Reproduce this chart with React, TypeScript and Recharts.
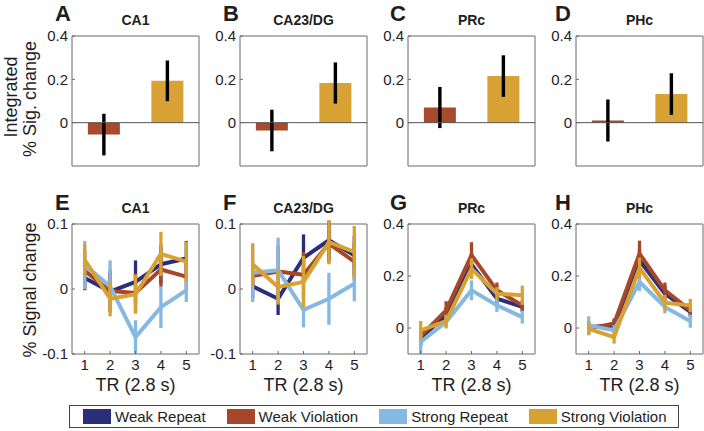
import React from 'react';
import { BarChart, Bar, Cell, LineChart, Line, XAxis, YAxis, ErrorBar, ReferenceArea, ReferenceLine } from 'recharts';

// ---------- data ----------
const regions = ['CA1', 'CA23/DG', 'PRc', 'PHc'];
const topLetters = ['A', 'B', 'C', 'D'];
const bottomLetters = ['E', 'F', 'G', 'H'];

const barCategories = ['Weak Violation', 'Strong Violation'];
const weakViolationBar = [-0.055, -0.036, 0.07, 0.01];
const weakViolationBarErr = [0.096, 0.096, 0.095, 0.097];
const strongViolationBar = [0.193, 0.183, 0.215, 0.132];
const strongViolationBarErr = [0.094, 0.095, 0.096, 0.096];

const trs = [1, 2, 3, 4, 5];
const seriesNames = ['Weak Repeat', 'Weak Violation', 'Strong Repeat', 'Strong Violation'];

// per panel (E, F, G, H)
const weakRepeat = [
  [0.017, -0.004, 0.011, 0.038, 0.047],
  [0.004, -0.015, 0.048, 0.075, 0.052],
  [-0.038, 0.049, 0.244, 0.113, 0.081],
  [0.004, 0.01, 0.26, 0.132, 0.062],
];
const weakRepeatErr = [
  [0.017, 0.03, 0.033, 0.03, 0.027],
  [0.018, 0.025, 0.036, 0.03, 0.03],
  [0.03, 0.03, 0.045, 0.03, 0.02],
  [0.02, 0.02, 0.045, 0.03, 0.02],
];
const weakViolation = [
  [0.028, -0.003, -0.006, 0.03, 0.019],
  [0.02, 0.027, 0.022, 0.07, 0.042],
  [-0.031, 0.068, 0.28, 0.145, 0.087],
  [-0.003, 0.017, 0.286, 0.145, 0.068],
];
const weakViolationErr = [
  [0.03, 0.033, 0.03, 0.027, 0.022],
  [0.02, 0.04, 0.035, 0.03, 0.029],
  [0.03, 0.035, 0.05, 0.03, 0.02],
  [0.02, 0.02, 0.05, 0.03, 0.02],
];
const strongRepeat = [
  [0.037, 0.004, -0.074, -0.028, -0.002],
  [0.025, 0.029, -0.032, -0.015, 0.008],
  [-0.054, 0.023, 0.145, 0.087, 0.042],
  [0.01, -0.009, 0.177, 0.081, 0.026],
];
const strongRepeatErr = [
  [0.037, 0.04, 0.026, 0.032, 0.018],
  [0.045, 0.05, 0.027, 0.04, 0.027],
  [0.045, 0.025, 0.038, 0.025, 0.025],
  [0.035, 0.02, 0.035, 0.025, 0.025],
];
const strongViolation = [
  [0.045, -0.015, -0.008, 0.054, 0.042],
  [0.038, 0.003, 0.011, 0.072, 0.057],
  [-0.009, 0.026, 0.228, 0.132, 0.126],
  [-0.003, -0.035, 0.231, 0.097, 0.087],
];
const strongViolationErr = [
  [0.024, 0.027, 0.03, 0.034, 0.031],
  [0.032, 0.027, 0.04, 0.034, 0.04],
  [0.036, 0.025, 0.04, 0.025, 0.037],
  [0.025, 0.025, 0.04, 0.03, 0.025],
];

const topTicks = [-0.2, 0, 0.2, 0.4];
const bottomDomains = [[-0.1, 0.1], [-0.1, 0.1], [-0.1, 0.4], [-0.1, 0.4]];
const bottomTicks = [[-0.1, 0, 0.1], [-0.1, 0, 0.1], [0, 0.2, 0.4], [0, 0.2, 0.4]];

// ---------- styles ----------
const lineColors = ['#2b2f78', '#a6472a', '#86b9e2', '#d8a233'];
const barColors = ['#a84b2c', '#d8a235'];
const FONT = '"Liberation Sans", Arial, Helvetica, sans-serif';
const frameColor = '#686868';
const textColor = '#1e1e1e';

const boxLefts = [72, 240, 408, 576];
const boxW = 127;
const boxH = 130;
const topBoxTop = 36;
const botBoxTop = 224;
const AXW = 50;

const fmt = (v: number) => (v === 0 ? '0' : String(v));
const tickStyle = { fontSize: 15, fill: textColor, fontFamily: FONT };

function TopPanel({ idx }: { idx: number }) {
  const data = barCategories.map((c, i) => ({
    cat: c,
    value: i === 0 ? weakViolationBar[idx] : strongViolationBar[idx],
    err: i === 0 ? weakViolationBarErr[idx] : strongViolationBarErr[idx],
  }));
  return (
    <div style={{ position: 'absolute', left: boxLefts[idx] - AXW, top: topBoxTop - 10 }}>
      <BarChart width={AXW + boxW + 6} height={10 + boxH + 6} data={data}
        margin={{ top: 10, right: 6, bottom: 6, left: 0 }} barCategoryGap="25%">
        <XAxis dataKey="cat" hide />
        <YAxis type="number" domain={[-0.2, 0.4]} ticks={topTicks} width={AXW} allowDataOverflow
          tickFormatter={fmt} tick={tickStyle} tickSize={-3} tickMargin={7}
          axisLine={false} tickLine={{ stroke: frameColor }} />
        <Bar dataKey="value" isAnimationActive={false}>
          {data.map((d, i) => <Cell key={d.cat} fill={barColors[i]} />)}
          <ErrorBar dataKey="err" width={0} strokeWidth={3.4} stroke="#000" direction="y" />
        </Bar>
        <ReferenceLine y={0} stroke="#555" strokeWidth={1} />
        <ReferenceArea y1={-0.2} y2={0.4} fill="none" stroke={frameColor} strokeWidth={1} />
      </BarChart>
    </div>
  );
}

function BottomPanel({ idx }: { idx: number }) {
  const data = trs.map((t, i) => ({
    tr: t,
    wr: weakRepeat[idx][i], wrE: weakRepeatErr[idx][i],
    wv: weakViolation[idx][i], wvE: weakViolationErr[idx][i],
    sr: strongRepeat[idx][i], srE: strongRepeatErr[idx][i],
    sv: strongViolation[idx][i], svE: strongViolationErr[idx][i],
  }));
  const keys = ['wr', 'wv', 'sr', 'sv'];
  const dom = bottomDomains[idx];
  return (
    <div style={{ position: 'absolute', left: boxLefts[idx] - AXW, top: botBoxTop - 10 }}>
      <LineChart width={AXW + boxW + 6} height={10 + boxH + 30} data={data}
        margin={{ top: 10, right: 6, bottom: 0, left: 0 }}>
        <XAxis dataKey="tr" type="number" domain={[0.5, 5.5]} ticks={trs} allowDataOverflow
          height={30} tick={tickStyle} tickSize={-3} tickMargin={8}
          axisLine={false} tickLine={{ stroke: frameColor }} />
        <YAxis type="number" domain={dom} ticks={bottomTicks[idx]} width={AXW} allowDataOverflow
          tickFormatter={fmt} tick={tickStyle} tickSize={-3} tickMargin={7}
          axisLine={false} tickLine={{ stroke: frameColor }} />
        <ReferenceArea x1={0.5} x2={5.5} y1={dom[0]} y2={dom[1]} fill="none" stroke={frameColor} strokeWidth={1} />
        {keys.map((k, s) => (
          <Line key={k} dataKey={k} name={seriesNames[s]} stroke={lineColors[s]} strokeWidth={4}
            dot={false} activeDot={false} isAnimationActive={false} strokeLinejoin="round">
            <ErrorBar dataKey={k + 'E'} width={0} strokeWidth={3.3} stroke={lineColors[s]} direction="y" />
          </Line>
        ))}
      </LineChart>
    </div>
  );
}

export default function App() {
  const centers = boxLefts.map((l) => l + boxW / 2);
  const letterX = [55, 223, 390, 555];
  return (
    <div style={{ position: 'absolute', left: 0, top: 0, width: 704, height: 431, background: '#fff', fontFamily: FONT, overflow: 'hidden' }}>
      {regions.map((r, i) => <TopPanel key={'t' + r} idx={i} />)}
      {regions.map((r, i) => <BottomPanel key={'b' + r} idx={i} />)}
      <svg width={704} height={431} style={{ position: 'absolute', left: 0, top: 0, pointerEvents: 'none' }}>
        <g fontFamily={FONT} fill={textColor}>
          {topLetters.map((l, i) => (
            <text key={l} x={letterX[i]} y={21} fontSize={22} fontWeight="bold">{l}</text>
          ))}
          {bottomLetters.map((l, i) => (
            <text key={l} x={letterX[i]} y={210} fontSize={22} fontWeight="bold">{l}</text>
          ))}
          {regions.map((r, i) => (
            <text key={'tt' + r} x={centers[i]} y={25} fontSize={14} fontWeight="bold" textAnchor="middle">{r}</text>
          ))}
          {regions.map((r, i) => (
            <text key={'bt' + r} x={centers[i]} y={213} fontSize={14} fontWeight="bold" textAnchor="middle">{r}</text>
          ))}
          {regions.map((r, i) => (
            <text key={'tr' + r} x={centers[i]} y={391} fontSize={18} textAnchor="middle">TR (2.8 s)</text>
          ))}
          <text transform="translate(17,97) rotate(-90)" fontSize={18} textAnchor="middle">Integrated</text>
          <text transform="translate(36,99) rotate(-90)" fontSize={18} textAnchor="middle">% Sig. change</text>
          <text transform="translate(36,290) rotate(-90)" fontSize={18} textAnchor="middle">% Signal change</text>
        </g>
      </svg>
      <div style={{
        position: 'absolute', left: 69, top: 405, width: 610, height: 23, boxSizing: 'border-box',
        border: '1px solid #444', display: 'flex', alignItems: 'center', paddingLeft: 13, gap: 21,
        fontSize: 15, color: textColor, whiteSpace: 'nowrap',
      }}>
        {seriesNames.map((n, i) => (
          <div key={n} style={{ display: 'flex', alignItems: 'center' }}>
            <div style={{ width: 28, height: 15, background: lineColors[i], marginRight: 4 }} />
            <span>{n}</span>
          </div>
        ))}
      </div>
    </div>
  );
}
